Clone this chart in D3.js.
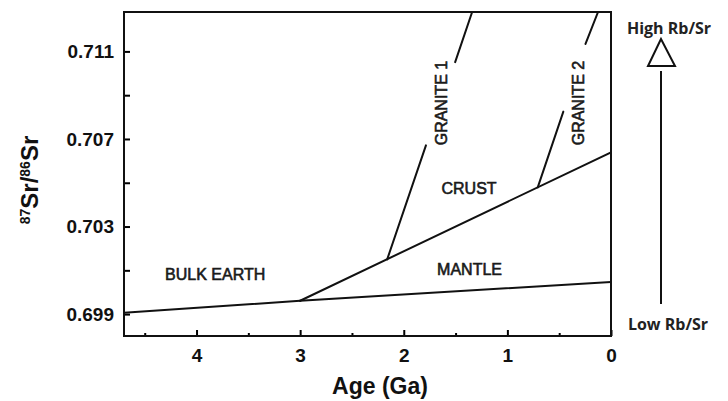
<!DOCTYPE html>
<html>
<head>
<meta charset="utf-8">
<script src="https://cdn.jsdelivr.net/npm/d3@7"></script>
<style>
  html, body { margin: 0; padding: 0; background: #fff; }
  svg { display: block; }
</style>
</head>
<body>
<svg id="chart" width="728" height="401"></svg>
<script>
// ---- data ----
const xTickValues = [4, 3, 2, 1, 0];
const xMinorTicks = [4.5, 3.5, 2.5, 1.5, 0.5];
const yTickValues = [0.699, 0.703, 0.707, 0.711];
const yMinorTicks = [0.701, 0.705, 0.709];

const bulkEarthAge = [4.7, 3.0];
const bulkEarthSr = [0.69906, 0.69961];
const mantleAge = [3.0, 0];
const mantleSr = [0.69961, 0.70047];
const crustAge = [3.0, 0];
const crustSr = [0.69961, 0.70639];
const granite1LowerAge = [2.16, 1.786];
const granite1LowerSr = [0.7015, 0.70671];
const granite1UpperAge = [1.504, 1.34];
const granite1UpperSr = [0.71051, 0.7128];
const granite2LowerAge = [0.707, 0.46];
const granite2LowerSr = [0.70479, 0.70825];
const granite2UpperAge = [0.246, 0.125];
const granite2UpperSr = [0.71134, 0.7128];

const regionLabels = [
  { text: "BULK EARTH", age: 3.82, sr: 0.70083, rot: 0 },
  { text: "MANTLE", age: 1.365, sr: 0.70105, rot: 0 },
  { text: "CRUST", age: 1.37, sr: 0.70475, rot: 0 },
  { text: "GRANITE 1", age: 1.635, sr: 0.70864, rot: -90 },
  { text: "GRANITE 2", age: 0.32, sr: 0.70864, rot: -90 }
];

// ---- chart ----
const svg = d3.select("#chart");
const L = 124, R = 611, T = 12, B = 336;
const x = d3.scaleLinear().domain([4.7, 0]).range([L, R]);
const y = d3.scaleLinear().domain([0.698, 0.7128]).range([B, T]);

const font = "'Liberation Sans', Arial, Helvetica, sans-serif";

svg.append("defs").append("clipPath").attr("id", "clip")
  .append("rect").attr("x", L).attr("y", T).attr("width", R - L).attr("height", B - T);

// axes
const xAxis = svg.append("g").attr("transform", `translate(0,${B})`)
  .call(d3.axisBottom(x).tickValues(xTickValues).tickFormat(d3.format("d"))
    .tickSize(-6).tickPadding(13));
const xMinor = svg.append("g").attr("transform", `translate(0,${B})`)
  .call(d3.axisBottom(x).tickValues(xMinorTicks).tickFormat("").tickSize(-3));
const yAxis = svg.append("g").attr("transform", `translate(${L},0)`)
  .call(d3.axisLeft(y).tickValues(yTickValues).tickFormat(d3.format(".3f"))
    .tickSize(-6).tickPadding(10));
const yMinor = svg.append("g").attr("transform", `translate(${L},0)`)
  .call(d3.axisLeft(y).tickValues(yMinorTicks).tickFormat("").tickSize(-6));

[xAxis, xMinor, yAxis, yMinor].forEach(g => {
  g.select(".domain").remove();
  g.selectAll(".tick line").attr("stroke", "#000").attr("stroke-width", 2);
  g.selectAll(".tick text").attr("fill", "#111")
    .style("font-family", font).style("font-weight", "bold").style("font-size", "19px");
});

// frame
svg.append("rect").attr("x", L).attr("y", T).attr("width", R - L).attr("height", B - T)
  .attr("fill", "none").attr("stroke", "#111").attr("stroke-width", 2);

// lines
const line = d3.line().x(d => x(d[0])).y(d => y(d[1]));
const series = [
  [bulkEarthAge, bulkEarthSr],
  [mantleAge, mantleSr],
  [crustAge, crustSr],
  [granite1LowerAge, granite1LowerSr],
  [granite1UpperAge, granite1UpperSr],
  [granite2LowerAge, granite2LowerSr],
  [granite2UpperAge, granite2UpperSr]
];
const lg = svg.append("g").attr("clip-path", "url(#clip)");
series.forEach(([ages, srs]) => {
  lg.append("path").datum(ages.map((a, i) => [a, srs[i]]))
    .attr("d", line).attr("fill", "none").attr("stroke", "#111")
    .attr("stroke-width", 2).attr("stroke-linecap", "round");
});

// region labels
regionLabels.forEach(l => {
  svg.append("text")
    .attr("transform", `translate(${x(l.age)},${y(l.sr)}) rotate(${l.rot})`)
    .attr("text-anchor", "middle").attr("dy", "0.36em")
    .style("font-family", font).style("font-size", "16px")
    .attr("fill", "#1a1a1a").attr("stroke", "#1a1a1a").attr("stroke-width", 0.6)
    .text(l.text);
});

// axis titles
svg.append("text").attr("x", 380).attr("y", 394).attr("text-anchor", "middle")
  .style("font-family", font).style("font-weight", "bold").style("font-size", "23px")
  .attr("fill", "#111").text("Age (Ga)");

const yt = svg.append("text").attr("transform", "translate(38,180) rotate(-90)")
  .attr("text-anchor", "middle")
  .style("font-family", font).style("font-weight", "bold").style("font-size", "24px")
  .attr("fill", "#111");
yt.append("tspan").attr("font-size", "14px").attr("dy", "-8").text("87");
yt.append("tspan").attr("dy", "8").text("Sr/");
yt.append("tspan").attr("font-size", "14px").attr("dy", "-8").text("86");
yt.append("tspan").attr("dy", "8").text("Sr");

// right annotation
const rfont = "'Open Sans', 'Noto Sans', sans-serif";
svg.append("text").attr("x", 669).attr("y", 34).attr("text-anchor", "middle")
  .style("font-family", rfont).style("font-weight", "bold").style("font-size", "16px")
  .attr("fill", "#222").text("High Rb/Sr");
svg.append("text").attr("x", 668).attr("y", 330).attr("text-anchor", "middle")
  .style("font-family", rfont).style("font-weight", "bold").style("font-size", "16px")
  .attr("fill", "#222").text("Low Rb/Sr");
svg.append("path").attr("d", "M661,39 L648,66 L675,66 Z")
  .attr("fill", "none").attr("stroke", "#111").attr("stroke-width", 2).attr("stroke-linejoin", "miter");
svg.append("line").attr("x1", 661).attr("x2", 661).attr("y1", 71).attr("y2", 304)
  .attr("stroke", "#111").attr("stroke-width", 2);
</script>
</body>
</html>
